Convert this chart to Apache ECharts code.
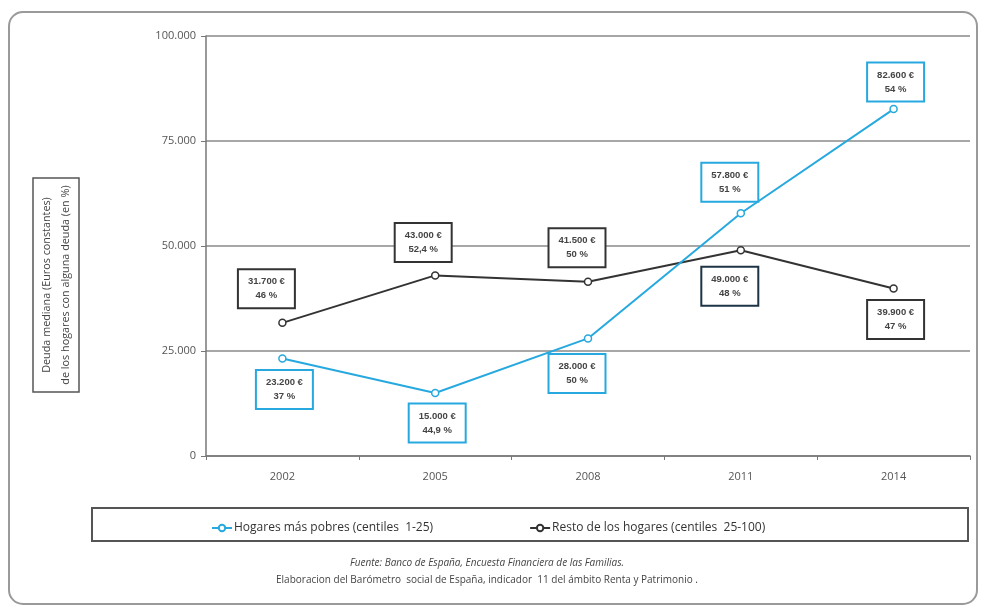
<!DOCTYPE html>
<html>
<head>
<meta charset="utf-8">
<script src="https://cdn.jsdelivr.net/npm/echarts@6/dist/echarts.min.js"></script>
<style>
html,body{margin:0;padding:0;background:#fff;}
#chart{width:982px;height:610px;}
</style>
</head>
<body>
<div id="chart"></div>
<script>
// ---- data ----
var years = ['2002', '2005', '2008', '2011', '2014'];
var poorDebt = [23200, 15000, 28000, 57800, 82600];
var poorPct = ['37', '44,9', '50', '51', '54'];
var restDebt = [31700, 43000, 41500, 49000, 39900];
var restPct = ['46', '52,4', '50', '48', '47'];
var yTicks = [0, 25000, 50000, 75000, 100000];
var seriesNames = ['Hogares más pobres (centiles  1-25)', 'Resto de los hogares (centiles  25-100)'];

// label placement (offset of label centre from point), kept separate from data
var poorLabelOffsets = [[2, 31], [2, 30], [-11, 35], [-11, -31], [2, -27]];
var restLabelOffsets = [[-16, -34], [-12, -33], [-11, -34], [-11, 36], [2, 31]];
var restLabelBorders = ['#333', '#333', '#333', '#1c3446', '#333'];

var BLUE = '#27a9df';
var DARK = '#333333';

function fmt(v) {
  return String(v).replace(/\B(?=(\d{3})+(?!\d))/g, '.');
}

function buildData(values, pcts, offsets, color, borders) {
  return values.map(function (v, i) {
    return {
      value: v,
      label: {
        show: true,
        position: 'inside',
        offset: offsets[i],
        formatter: fmt(v) + ' €\n' + pcts[i] + ' %',
        borderColor: borders ? borders[i] : color,
        borderWidth: 2,
        backgroundColor: '#fff',
        padding: [5, 9, 4, 9],
        fontSize: 9.5,
        fontWeight: 'bold',
        lineHeight: 14,
        color: '#444',
        align: 'center',
        fontFamily: 'Liberation Sans, Arial, sans-serif'
      }
    };
  });
}

var chart = echarts.init(document.getElementById('chart'), null, {renderer: 'canvas'});

var option = {
  animation: false,
  backgroundColor: '#fff',
  textStyle: {fontFamily: 'Open Sans, DejaVu Sans, sans-serif'},
  grid: {left: 206, right: 12, top: 36, bottom: 154, containLabel: false},
  xAxis: {
    type: 'category',
    data: years,
    boundaryGap: true,
    axisLine: {lineStyle: {color: '#777', width: 1.5}},
    axisTick: {show: true, length: 4, lineStyle: {color: '#777'}},
    axisLabel: {color: '#555', fontSize: 11, margin: 15}
  },
  yAxis: {
    type: 'value',
    min: 0,
    max: 100000,
    interval: 25000,
    axisLine: {show: true, lineStyle: {color: '#777', width: 1.5}},
    axisTick: {show: true, length: 5, lineStyle: {color: '#777'}},
    splitLine: {lineStyle: {color: '#8a8a8a', width: 1.5}},
    axisLabel: {
      color: '#555', fontSize: 11, margin: 10,
      formatter: function (v) { return yTicks.indexOf(v) >= 0 ? fmt(v) : ''; }
    }
  },
  legend: {
    top: 517,
    left: 206,
    itemGap: 96,
    itemWidth: 20,
    itemHeight: 8,
    textStyle: {color: '#333', fontSize: 12, padding: [0, 0, 0, -3]},
    data: seriesNames
  },
  series: [
    {
      name: seriesNames[0],
      type: 'line',
      data: buildData(poorDebt, poorPct, poorLabelOffsets, BLUE),
      symbol: 'circle',
      symbolSize: 7,
      itemStyle: {color: '#fff', borderColor: BLUE, borderWidth: 1.5},
      lineStyle: {color: BLUE, width: 2},
      z: 3
    },
    {
      name: seriesNames[1],
      type: 'line',
      data: buildData(restDebt, restPct, restLabelOffsets, DARK, restLabelBorders),
      symbol: 'circle',
      symbolSize: 7,
      itemStyle: {color: '#fff', borderColor: DARK, borderWidth: 1.5},
      lineStyle: {color: DARK, width: 2},
      z: 2
    }
  ],
  graphic: [
    {
      type: 'rect',
      shape: {x: 9, y: 12, width: 968, height: 592, r: 14},
      style: {fill: null, stroke: '#9a9a9a', lineWidth: 2},
      silent: true, z: -1
    },
    {
      type: 'rect',
      shape: {x: 92, y: 508, width: 876, height: 33},
      style: {fill: null, stroke: '#555', lineWidth: 2},
      silent: true
    },
    {
      type: 'rect',
      shape: {x: 33, y: 178, width: 46, height: 214},
      style: {fill: '#fff', stroke: '#555', lineWidth: 1.5},
      silent: true
    },
    {
      type: 'text',
      x: 56, y: 285,
      rotation: Math.PI / 2,
      style: {
        text: 'Deuda mediana (Euros constantes)\nde los hogares con alguna deuda (en %)',
        fill: '#444', fontSize: 10.8, lineHeight: 19,
        align: 'center', verticalAlign: 'middle',
        fontFamily: 'Open Sans, DejaVu Sans, sans-serif'
      },
      silent: true
    },
    {
      type: 'text',
      x: 487, y: 563,
      style: {
        text: 'Fuente: Banco de España, Encuesta Financiera de las Familias.',
        fill: '#444', fontSize: 10, fontStyle: 'italic',
        align: 'center', verticalAlign: 'middle',
        fontFamily: 'Open Sans, DejaVu Sans, sans-serif'
      },
      silent: true
    },
    {
      type: 'text',
      x: 487, y: 580,
      style: {
        text: 'Elaboracion del Barómetro  social de España, indicador  11 del ámbito Renta y Patrimonio .',
        fill: '#444', fontSize: 10,
        align: 'center', verticalAlign: 'middle',
        fontFamily: 'Open Sans, DejaVu Sans, sans-serif'
      },
      silent: true
    }
  ]
};

chart.setOption(option);
</script>
</body>
</html>
